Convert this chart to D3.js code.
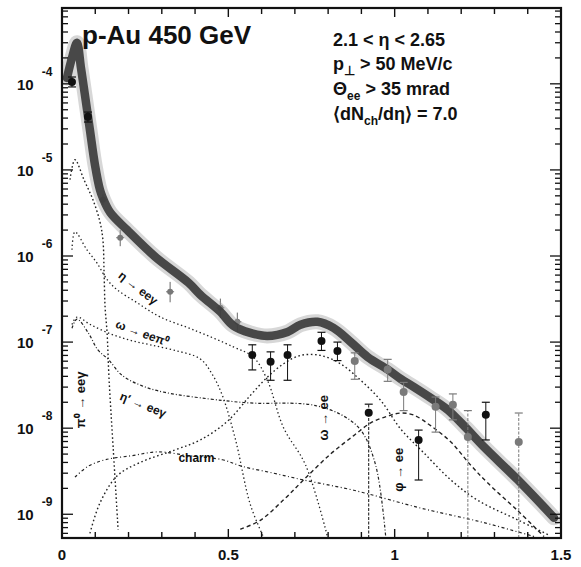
<!DOCTYPE html>
<html><head><meta charset="utf-8">
<script src="https://cdn.jsdelivr.net/npm/d3@7"></script>
<style>
body{margin:0;background:#fff}
svg{display:block}
text{font-family:"Liberation Sans",Arial,Helvetica,sans-serif;fill:#111}
</style>
</head><body>
<svg id="c" width="581" height="567"></svg>
<script>
// ---- data (mass in GeV/c^2, yield) ----
const xTickValues = [0, 0.5, 1, 1.5];
const xTickLabels = ["0", "0.5", "1", "1.5"];
const yDecades = [-9, -8, -7, -6, -5, -4];

const totalCurve = [[0.015,1.17e-4],[0.030,2.0e-4],[0.045,3.0e-4],[0.057,1.53e-4],[0.069,7.4e-5],[0.084,2.9e-5],[0.099,1.15e-5],[0.114,5.9e-6],[0.123,4.7e-6],[0.145,3.2e-6],[0.196,2.0e-6],[0.280,9.8e-7],[0.380,4.9e-7],[0.416,3.54e-7],[0.476,2.25e-7],[0.515,1.55e-7],[0.566,1.28e-7],[0.617,1.18e-7],[0.678,1.31e-7],[0.717,1.59e-7],[0.768,1.72e-7],[0.816,1.46e-7],[0.867,1.01e-7],[0.919,6.7e-8],[0.979,4.8e-8],[1.018,3.74e-8],[1.057,3.02e-8],[1.108,2.25e-8],[1.160,1.63e-8],[1.214,1.01e-8],[1.268,6.07e-9],[1.370,2.51e-9],[1.479,9.1e-10]];

const pi0Dalitz = [[0.024,7.7e-6],[0.039,1.31e-5],[0.066,7.7e-6],[0.093,4.5e-6],[0.114,2.5e-6],[0.123,1.54e-6],[0.1265,6.4e-7],[0.1295,2.56e-7],[0.1355,1.28e-7],[0.1416,3.6e-8],[0.1536,6.1e-9],[0.1687,6.6e-10]];
const etaDalitz = [[0.030,1.18e-6],[0.039,1.91e-6],[0.075,1.18e-6],[0.105,8.3e-7],[0.136,5.3e-7],[0.166,4.05e-7],[0.226,2.86e-7],[0.295,1.96e-7],[0.395,1.39e-7],[0.515,8.8e-8],[0.575,6.7e-8],[0.617,3.64e-8],[0.666,1.01e-8],[0.732,3.75e-9],[0.798,5.5e-10]];
const omegaDalitz = [[0.030,1.6e-7],[0.045,1.95e-7],[0.085,1.6e-7],[0.145,1.25e-7],[0.205,1.05e-7],[0.265,9.3e-8],[0.340,8.0e-8],[0.415,6.4e-8],[0.452,4.2e-8],[0.482,2.4e-8],[0.521,7.5e-9],[0.566,1.3e-9],[0.605,5.5e-10]];
const etaPrimeDalitz = [[0.030,1.45e-7],[0.045,1.85e-7],[0.078,1.3e-7],[0.108,8.1e-8],[0.139,6.3e-8],[0.181,4.1e-8],[0.241,3.1e-8],[0.310,2.6e-8],[0.482,2.1e-8],[0.581,1.95e-8],[0.687,1.95e-8],[0.756,1.85e-8],[0.837,1.45e-8],[0.898,9.5e-9],[0.943,3.7e-9],[0.973,5.5e-10]];
const rhoCurve = [[0.084,6.0e-10],[0.114,1.35e-9],[0.166,2.8e-9],[0.235,4.0e-9],[0.340,5.6e-9],[0.416,7.3e-9],[0.497,1.2e-8],[0.566,2.4e-8],[0.617,3.9e-8],[0.666,5.6e-8],[0.717,7.0e-8],[0.777,7.0e-8],[0.837,5.6e-8],[0.898,3.6e-8],[0.958,2.1e-8],[1.018,9.8e-9],[1.087,5.2e-9],[1.169,2.5e-9],[1.250,1.45e-9],[1.370,8.6e-10],[1.461,5.8e-10]];
const phiCurve = [[0.536,6.7e-10],[0.596,8.5e-10],[0.666,1.47e-9],[0.726,2.5e-9],[0.807,5.0e-9],[0.877,8.2e-9],[0.928,1.15e-8],[0.979,1.38e-8],[1.018,1.5e-8],[1.057,1.42e-8],[1.108,1.07e-8],[1.169,6.9e-9],[1.229,3.7e-9],[1.280,2.3e-9],[1.370,1.1e-9],[1.449,5.5e-10]];
const charmCurve = [[0.039,2.7e-9],[0.078,3.6e-9],[0.130,4.3e-9],[0.211,4.8e-9],[0.289,5.3e-9],[0.380,4.8e-9],[0.482,4.3e-9],[0.542,3.6e-9],[0.636,3.0e-9],[0.726,2.5e-9],[0.877,1.9e-9],[1.078,1.18e-9],[1.268,8.0e-10],[1.420,5.5e-10]];

// data points: mass, value, low, high; style 0 = black dot, 1 = grey dot, 2 = faint cross on the band
const ptMass = [0.030,0.078,0.123,0.175,0.325,0.476,0.527,0.572,0.627,0.678,0.780,0.828,0.880,0.922,0.979,1.027,1.072,1.123,1.175,1.220,1.274,1.373];
const ptVal  = [1.05e-4,4.14e-5,4.49e-6,1.63e-6,3.84e-7,2.5e-7,1.72e-7,7.1e-8,5.9e-8,7.1e-8,1.03e-7,7.9e-8,6.05e-8,1.51e-8,4.8e-8,2.64e-8,7.3e-9,1.77e-8,1.87e-8,7.9e-9,1.43e-8,6.9e-9];
const ptLow  = [0.92e-4,3.6e-5,3.9e-6,1.3e-6,2.9e-7,1.9e-7,1.3e-7,4.75e-8,3.6e-8,3.6e-8,8.0e-8,6.1e-8,3.7e-8,5.3e-10,3.5e-8,1.6e-8,2.5e-9,9.0e-9,1.25e-8,5.3e-10,7.3e-9,5.3e-10];
const ptHigh = [1.2e-4,4.7e-5,5.2e-6,2.0e-6,5.0e-7,3.2e-7,2.2e-7,9.3e-8,7.7e-8,9.3e-8,1.3e-7,1.0e-7,7.5e-8,1.9e-8,6.3e-8,3.4e-8,9.5e-9,2.3e-8,2.5e-8,1.6e-8,2.0e-8,1.5e-8];
const ptStyle = [0,0,2,2,2,2,2,0,0,0,0,0,1,0,1,1,0,1,1,1,0,1];

// annotation anchors (data coords) and texts
const curveLabels = [
  {t:"η → eeγ", m:0.229, v:4.27e-7, a:38},
  {t:"ω → eeπ⁰", m:0.241, v:1.28e-7, a:20},
  {t:"η′ → eeγ", m:0.244, v:1.87e-8, a:22},
  {t:"charm", m:0.404, v:4.5e-9, a:0}
];
const vertLabels = [
  {t:"π⁰ → eeγ", m:0.054, v:2.13e-8},
  {t:"ω → ee", m:0.786, v:1.32e-8},
  {t:"φ → ee", m:1.012, v:3.28e-9}
];

// ---- drawing ----
const svg = d3.select("#c");
const x = d3.scaleLinear().domain([0,1.5]).range([62,561]);
const y = d3.scaleLog().domain([5.3e-10,7.6e-4]).range([538,8]);
const [X0,X1] = x.range(), [Y0,Y1] = y.range();

svg.append("defs").append("clipPath").attr("id","clip")
  .append("rect").attr("x",X0).attr("y",Y1).attr("width",X1-X0).attr("height",Y0-Y1);
const g = svg.append("g").attr("clip-path","url(#clip)");

const line = d3.line().x(d=>x(d[0])).y(d=>y(d[1])).curve(d3.curveCatmullRom.alpha(0.5));

// components
const comps = [
  [pi0Dalitz,"1.6,2.4",1.4],
  [etaDalitz,"1.4,2.6",1.3],
  [omegaDalitz,"1.4,2.6",1.3],
  [etaPrimeDalitz,"3,2,1,2",1.2],
  [rhoCurve,"1.6,2.6",1.4],
  [phiCurve,"4,3",1.4],
  [charmCurve,"3,2.5,1,2.5",1.2]
];
comps.forEach(([d,dash,w])=>{
  g.append("path").attr("d",line(d)).attr("fill","none").attr("stroke","#222")
   .attr("stroke-width",w).attr("stroke-dasharray",dash);
});

// faint band-hidden points (drawn under band)
ptMass.forEach((m,i)=>{
  if (ptStyle[i]!==2) return;
  const cx = x(m), cy = y(ptVal[i]);
  g.append("line").attr("x1",cx).attr("x2",cx).attr("y1",y(ptLow[i])).attr("y2",y(ptHigh[i])).attr("stroke","#666").attr("stroke-width",1);
  g.append("line").attr("x1",cx-4).attr("x2",cx+4).attr("y1",cy).attr("y2",cy).attr("stroke","#666").attr("stroke-width",1);
  g.append("circle").attr("cx",cx).attr("cy",cy).attr("r",3).attr("fill","#777");
});

// total band
g.append("path").attr("d",line(totalCurve)).attr("fill","none").attr("stroke","#9a9a9a")
  .attr("stroke-width",15).attr("stroke-opacity",0.4).attr("stroke-linecap","round");
g.append("path").attr("d",line(totalCurve)).attr("fill","none").attr("stroke","#3c3c3c")
  .attr("stroke-width",8.5).attr("stroke-linecap","round").attr("stroke-opacity",0.92);

// data points
ptMass.forEach((m,i)=>{
  if (ptStyle[i]===2) return;
  const col = ptStyle[i] ? "#7a7a7a" : "#111";
  const cx = x(m);
  g.append("line").attr("x1",cx).attr("x2",cx).attr("y1",y(ptLow[i])).attr("y2",y(ptHigh[i]))
    .attr("stroke",col).attr("stroke-width",1).attr("stroke-dasharray", ptLow[i]<1e-9 ? "3,1.5" : null);
  g.append("line").attr("x1",cx-4).attr("x2",cx+4).attr("y1",y(ptHigh[i])).attr("y2",y(ptHigh[i]))
    .attr("stroke",col).attr("stroke-width",1.2);
  if (ptLow[i] > 1e-9)
    g.append("line").attr("x1",cx-4).attr("x2",cx+4).attr("y1",y(ptLow[i])).attr("y2",y(ptLow[i]))
      .attr("stroke",col).attr("stroke-width",1.2);
  g.append("circle").attr("cx",cx).attr("cy",y(ptVal[i])).attr("r",4).attr("fill",col);
});

// frame
svg.append("rect").attr("x",X0).attr("y",Y1).attr("width",X1-X0).attr("height",Y0-Y1)
  .attr("fill","none").attr("stroke","#111").attr("stroke-width",2.2);

// x ticks (every 0.1), bottom and top, inward
const xt = d3.range(0,1.501,0.1);
xt.forEach(v=>{
  const major = Math.abs(v*2-Math.round(v*2))<1e-6;
  const L = major ? 9 : 6;
  svg.append("line").attr("x1",x(v)).attr("x2",x(v)).attr("y1",Y0).attr("y2",Y0-L).attr("stroke","#111").attr("stroke-width",1.4);
  svg.append("line").attr("x1",x(v)).attr("x2",x(v)).attr("y1",Y1).attr("y2",Y1+L).attr("stroke","#111").attr("stroke-width",1.4);
});
xTickValues.forEach((v,i)=>{
  svg.append("text").attr("x",x(v)).attr("y",Y0+22).attr("text-anchor","middle")
    .attr("font-size",15).attr("font-weight","bold").text(xTickLabels[i]);
});

// y ticks (log minor) left & right inward
const yt = [];
for (let e=-10;e<=-3;e++) for (let k=1;k<10;k++){ const v=k*Math.pow(10,e); if(v>=y.domain()[0]&&v<=y.domain()[1]) yt.push([v,k===1]); }
yt.forEach(([v,maj])=>{
  const L = maj ? 11 : 6;
  svg.append("line").attr("x1",X0).attr("x2",X0+L).attr("y1",y(v)).attr("y2",y(v)).attr("stroke","#111").attr("stroke-width",1.3);
  svg.append("line").attr("x1",X1).attr("x2",X1-L).attr("y1",y(v)).attr("y2",y(v)).attr("stroke","#111").attr("stroke-width",1.3);
});
yDecades.forEach(e=>{
  const yy = y(Math.pow(10,e));
  const t = svg.append("text").attr("x",17).attr("y",yy+6).attr("font-size",15).attr("font-weight","bold");
  t.append("tspan").text("10");
  t.append("tspan").attr("dx",8).attr("dy",-14).attr("font-size",12).text(String(e));
});

// title and cuts
svg.append("text").attr("x",82).attr("y",44).attr("font-size",26).attr("font-weight","bold").text("p-Au 450 GeV");
const info = svg.append("g").attr("font-size",18).attr("font-weight","bold");
info.append("text").attr("x",333).attr("y",46).text("2.1 < η < 2.65");
let t2 = info.append("text").attr("x",333).attr("y",70);
t2.append("tspan").text("p");
t2.append("tspan").attr("dy",5).attr("font-size",13).text("⊥");
t2.append("tspan").attr("dy",-5).text(" > 50 MeV/c");
let t3 = info.append("text").attr("x",333).attr("y",95);
t3.append("tspan").text("Θ");
t3.append("tspan").attr("dy",5).attr("font-size",12).text("ee");
t3.append("tspan").attr("dy",-5).text(" > 35 mrad");
let t4 = info.append("text").attr("x",333).attr("y",120);
t4.append("tspan").text("⟨dN");
t4.append("tspan").attr("dy",5).attr("font-size",12).text("ch");
t4.append("tspan").attr("dy",-5).text("/dη⟩ = 7.0");

// curve labels
curveLabels.forEach(l=>{
  svg.append("text").attr("transform",`translate(${x(l.m)},${y(l.v)}) rotate(${l.a})`)
    .attr("text-anchor","middle").attr("dy","0.35em").attr("font-size",12).attr("font-weight","bold").text(l.t);
});
vertLabels.forEach(l=>{
  svg.append("text").attr("transform",`translate(${x(l.m)},${y(l.v)}) rotate(-90)`)
    .attr("text-anchor","middle").attr("dy","0.35em").attr("font-size",13).attr("font-weight","bold").text(l.t);
});
</script>
</body></html>
